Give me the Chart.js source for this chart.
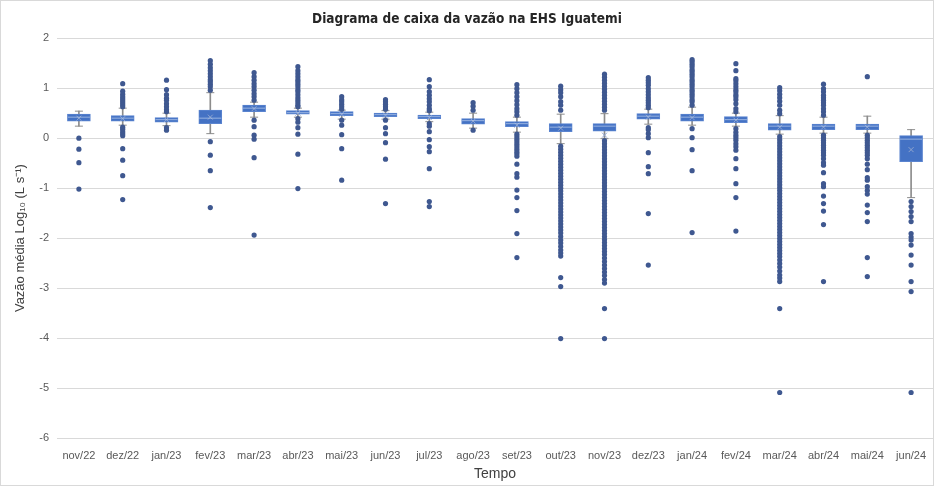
<!DOCTYPE html>
<html>
<head>
<meta charset="utf-8">
<script src="https://cdn.jsdelivr.net/npm/chart.js@4.4.1/dist/chart.umd.min.js"></script>
<style>
  html, body { margin: 0; padding: 0; background: #fff; }
  #wrap { width: 934px; height: 486px; box-sizing: border-box; border: 1px solid #D9D9D9; position: relative; }
  canvas { display: block; }
</style>
</head>
<body>
<div id="wrap"><canvas id="c"></canvas></div>
<script>
const categories = ['nov/22','dez/22','jan/23','fev/23','mar/23','abr/23','mai/23','jun/23','jul/23','ago/23','set/23','out/23','nov/23','dez/23','jan/24','fev/24','mar/24','abr/24','mai/24','jun/24'];

const q1     = [0.34, 0.34, 0.32, 0.29, 0.53, 0.48, 0.45, 0.43, 0.39, 0.28, 0.23, 0.13, 0.14, 0.38, 0.34, 0.31, 0.16, 0.17, 0.17, -0.47];
const median = [0.42, 0.40, 0.37, 0.40, 0.60, 0.51, 0.49, 0.47, 0.43, 0.35, 0.29, 0.22, 0.24, 0.44, 0.42, 0.37, 0.24, 0.24, 0.24, -0.02];
const q3     = [0.48, 0.45, 0.41, 0.56, 0.66, 0.55, 0.53, 0.50, 0.46, 0.39, 0.33, 0.29, 0.29, 0.49, 0.48, 0.43, 0.29, 0.28, 0.28, 0.05];
const mean   = [0.40, 0.39, 0.37, 0.42, 0.59, 0.50, 0.48, 0.46, 0.41, 0.34, 0.26, 0.20, 0.06, 0.42, 0.41, 0.36, 0.22, 0.22, 0.22, -0.23];
const whiskerLow  = [0.24, 0.26, 0.25, 0.09, 0.42, 0.42, 0.38, 0.38, 0.33, 0.20, 0.12, -0.11, -0.01, 0.28, 0.26, 0.24, 0.08, 0.10, 0.10, -1.19];
const whiskerHigh = [0.54, 0.60, 0.50, 0.91, 0.72, 0.60, 0.56, 0.55, 0.52, 0.50, 0.42, 0.48, 0.49, 0.58, 0.62, 0.50, 0.45, 0.42, 0.44, 0.17];

const outliers = [
  [0.0, -0.22, -0.49, -1.02],
  [1.09, 0.94, 0.88, 0.83, 0.79, 0.75, 0.71, 0.67, 0.63, 0.22, 0.18, 0.13, 0.09, 0.05, -0.21, -0.44, -0.75, -1.23],
  [1.16, 0.97, 0.87, 0.80, 0.76, 0.69, 0.63, 0.57, 0.53, 0.21, 0.16],
  [1.55, 1.48, 1.41, 1.35, 1.29, 1.23, 1.17, 1.13, 1.08, 1.03, 0.96, -0.07, -0.34, -0.65, -1.39],
  [1.31, 1.23, 1.16, 1.09, 1.03, 0.96, 0.89, 0.83, 0.76, 0.36, 0.23, 0.06, -0.02, -0.39, -1.94],
  [1.43, 1.35, 1.29, 1.23, 1.17, 1.13, 1.08, 1.03, 0.97, 0.93, 0.87, 0.81, 0.76, 0.71, 0.66, 0.63, 0.39, 0.32, 0.21, 0.08, -0.32, -1.01],
  [0.83, 0.77, 0.73, 0.68, 0.63, 0.58, 0.36, 0.26, 0.07, -0.21, -0.84],
  [0.77, 0.73, 0.68, 0.63, 0.58, 0.36, 0.21, 0.09, -0.09, -0.42, -1.31],
  [1.17, 1.03, 0.93, 0.86, 0.79, 0.73, 0.66, 0.59, 0.55, 0.29, 0.24, 0.13, -0.03, -0.17, -0.27, -0.61, -1.27, -1.37],
  [0.71, 0.64, 0.56, 0.16],
  [1.07, 0.99, 0.91, 0.83, 0.75, 0.67, 0.59, 0.53, 0.46, 0.08, 0.03, -0.02, -0.07, -0.12, -0.17, -0.22, -0.27, -0.31, -0.36, -0.52, -0.71, -0.78, -1.04, -1.19, -1.45, -1.91, -2.39],
  [1.04, 0.97, 0.91, 0.83, 0.73, 0.66, 0.56, -0.16, -0.22, -0.28, -0.34, -0.40, -0.46, -0.52, -0.58, -0.64, -0.70, -0.76, -0.82, -0.88, -0.94, -1.00, -1.06, -1.12, -1.18, -1.24, -1.30, -1.36, -1.42, -1.48, -1.54, -1.60, -1.66, -1.72, -1.78, -1.84, -1.90, -1.97, -2.04, -2.10, -2.17, -2.24, -2.30, -2.36, -2.79, -2.97, -4.01],
  [1.28, 1.22, 1.16, 1.10, 1.04, 0.98, 0.92, 0.86, 0.80, 0.74, 0.68, 0.62, 0.56, -0.05, -0.11, -0.17, -0.23, -0.29, -0.35, -0.41, -0.47, -0.53, -0.59, -0.65, -0.71, -0.77, -0.83, -0.89, -0.95, -1.01, -1.07, -1.13, -1.19, -1.25, -1.31, -1.37, -1.43, -1.49, -1.55, -1.61, -1.67, -1.73, -1.79, -1.85, -1.91, -1.97, -2.03, -2.09, -2.15, -2.21, -2.27, -2.33, -2.40, -2.47, -2.54, -2.61, -2.68, -2.75, -2.83, -2.90, -3.41, -4.01],
  [1.21, 1.16, 1.11, 1.06, 0.99, 0.93, 0.87, 0.81, 0.76, 0.71, 0.66, 0.61, 0.21, 0.17, 0.09, 0.01, -0.29, -0.57, -0.71, -1.51, -2.54],
  [1.57, 1.53, 1.48, 1.43, 1.37, 1.33, 1.28, 1.23, 1.17, 1.13, 1.08, 1.03, 0.97, 0.93, 0.88, 0.83, 0.77, 0.73, 0.66, 0.19, 0.01, -0.23, -0.65, -1.89],
  [1.49, 1.35, 1.19, 1.15, 1.09, 1.03, 0.97, 0.93, 0.87, 0.83, 0.77, 0.69, 0.59, 0.53, 0.19, 0.12, 0.06, 0.01, -0.04, -0.11, -0.17, -0.24, -0.41, -0.61, -0.91, -1.19, -1.86],
  [1.01, 0.95, 0.88, 0.81, 0.74, 0.66, 0.56, 0.49, 0.03, -0.03, -0.09, -0.15, -0.21, -0.27, -0.33, -0.39, -0.45, -0.51, -0.57, -0.63, -0.69, -0.75, -0.81, -0.87, -0.93, -0.99, -1.05, -1.11, -1.17, -1.23, -1.29, -1.35, -1.41, -1.47, -1.53, -1.59, -1.65, -1.71, -1.77, -1.83, -1.89, -1.95, -2.01, -2.07, -2.13, -2.19, -2.25, -2.31, -2.37, -2.44, -2.51, -2.58, -2.66, -2.74, -2.80, -2.87, -3.41, -5.09],
  [1.08, 0.99, 0.93, 0.86, 0.81, 0.76, 0.71, 0.66, 0.59, 0.53, 0.46, 0.06, 0.01, -0.04, -0.09, -0.14, -0.19, -0.24, -0.29, -0.34, -0.41, -0.49, -0.54, -0.69, -0.91, -0.97, -1.16, -1.31, -1.46, -1.73, -2.87],
  [1.23, 0.06, 0.01, -0.04, -0.09, -0.14, -0.19, -0.24, -0.29, -0.34, -0.41, -0.52, -0.63, -0.79, -0.84, -0.97, -1.05, -1.12, -1.34, -1.49, -1.67, -2.39, -2.77],
  [-1.27, -1.37, -1.47, -1.57, -1.67, -1.91, -1.98, -2.04, -2.14, -2.34, -2.54, -2.87, -3.07, -5.09]
];

const yTicks = [2, 1, 0, -1, -2, -3, -4, -5, -6];
const chartTitle = 'Diagrama de caixa da vazão na EHS Iguatemi';
const yTitle = 'Vazão média Log₁₀ (L s⁻¹)';
const xTitle = 'Tempo';

const boxData = categories.map((c, i) => [q1[i], q3[i]]);
const whiskerData = categories.map((c, i) => [whiskerLow[i], whiskerHigh[i]]);
const outlierData = [];
outliers.forEach((arr, i) => arr.forEach(v => outlierData.push({ x: categories[i], y: v })));

const BOX = '#4472C4';
const SANS = "'Liberation Sans', Arial, sans-serif";
new Chart(document.getElementById('c'), {
  type: 'bar',
  data: {
    labels: categories,
    datasets: [
      { type: 'line', data: outlierData, showLine: false, pointRadius: 2.6, pointBackgroundColor: '#3F5890', pointBorderColor: '#3F5890', pointBorderWidth: 0, order: 0 },
      { type: 'line', data: median, showLine: false, pointStyle: 'line', pointRadius: 11, pointBorderColor: 'rgba(190,208,240,0.7)', pointBorderWidth: 1, order: 1 },
      { type: 'line', data: mean, showLine: false, pointStyle: 'crossRot', pointRadius: 3.5, pointBorderColor: '#8EA4CF', pointBorderWidth: 1, order: 1 },
      { type: 'line', data: whiskerHigh, showLine: false, pointStyle: 'line', pointRadius: 4, pointBorderColor: '#8C8C8C', pointBorderWidth: 1, order: 3 },
      { type: 'line', data: whiskerLow, showLine: false, pointStyle: 'line', pointRadius: 4, pointBorderColor: '#8C8C8C', pointBorderWidth: 1, order: 3 },
      { data: boxData, backgroundColor: BOX, borderColor: '#5A84CF', borderWidth: 1, borderSkipped: false, barThickness: 23, grouped: false, order: 2 },
      { data: whiskerData, backgroundColor: '#8C8C8C', borderWidth: 0, barThickness: 1, grouped: false, order: 4 }
    ]
  },
  options: {
    responsive: true,
    maintainAspectRatio: false,
    animation: false,
    layout: { autoPadding: false, padding: { left: 0, right: 0, top: 0, bottom: 2 } },
    plugins: {
      legend: { display: false },
      tooltip: { enabled: false },
      title: {
        display: true, text: chartTitle, color: '#262626',
        font: { family: "'Liberation Sans Narrow', 'DejaVu Sans Condensed', Arial, sans-serif", size: 13.5, weight: 'bold' },
        padding: { top: 10, bottom: 11 }
      }
    },
    scales: {
      x: {
        afterFit: (s) => { s.height = 45; s.paddingLeft = 0; s.paddingRight = 0; },
        grid: { display: false, drawTicks: false },
        border: { display: true, color: '#D9D9D9' },
        ticks: { color: '#595959', font: { family: SANS, size: 11 }, maxRotation: 0, autoSkip: false, padding: 11 },
        title: { display: true, text: xTitle, color: '#404040', font: { family: SANS, size: 14 }, padding: { top: 0, bottom: 0 } }
      },
      y: {
        min: -6, max: 2,
        afterBuildTicks: (s) => { s.ticks = yTicks.map(v => ({ value: v })); },
        afterFit: (s) => { s.width = 56; },
        grid: { color: '#D9D9D9', drawTicks: false },
        border: { display: false },
        ticks: { color: '#595959', font: { family: SANS, size: 11 }, padding: 8 },
        title: { display: true, text: yTitle, color: '#404040', font: { family: SANS, size: 13 }, padding: { top: 12, bottom: 0 } }
      }
    }
  }
});
</script>
</body>
</html>
